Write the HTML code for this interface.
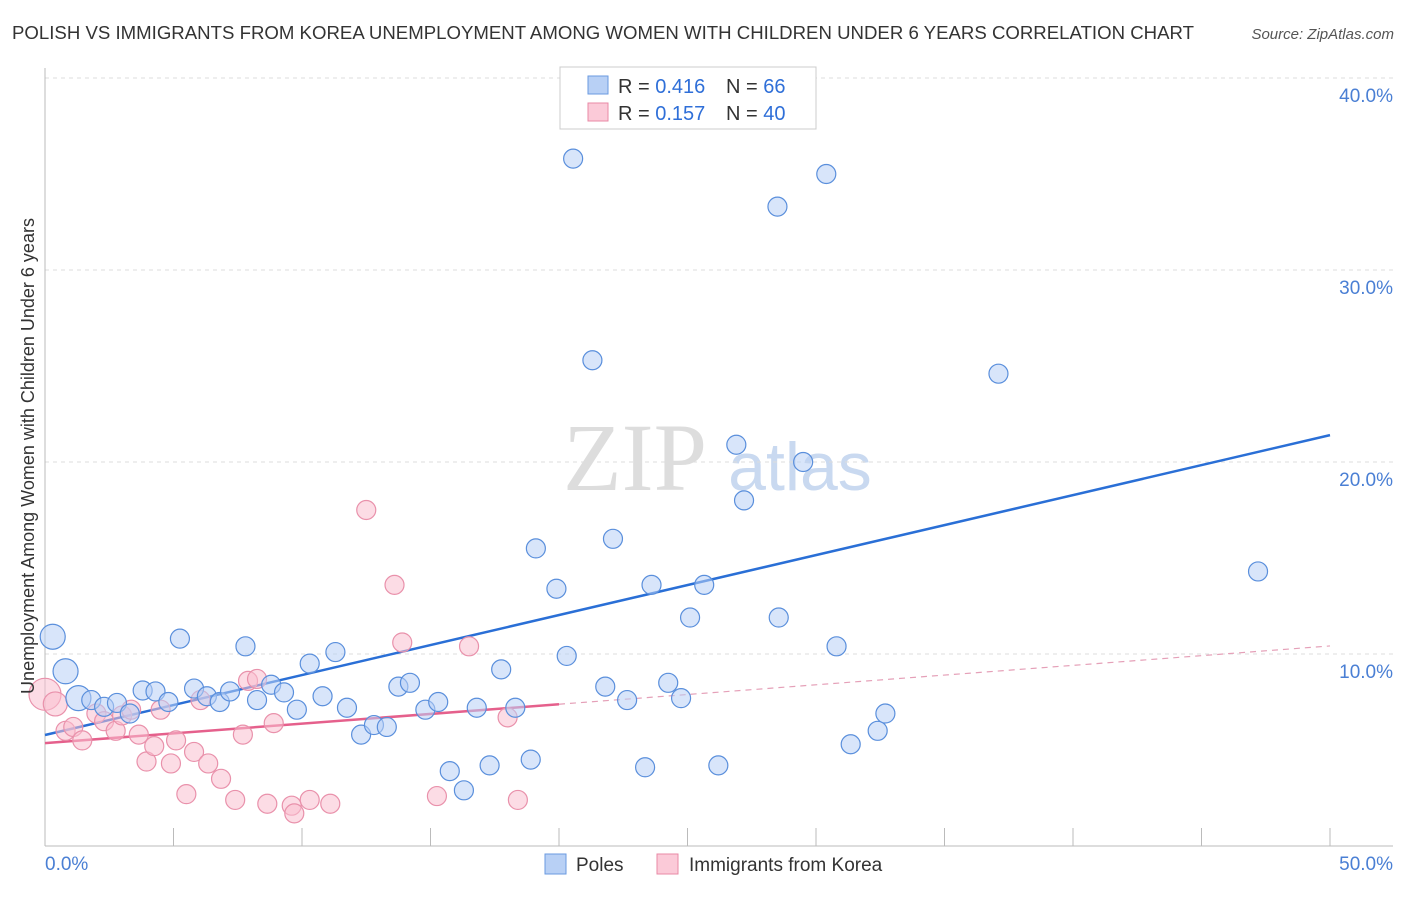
<!DOCTYPE html>
<html><head><meta charset="utf-8"><style>
body{margin:0;background:#fff;font-family:"Liberation Sans",sans-serif;}
</style></head><body>
<svg width="1406" height="892" xmlns="http://www.w3.org/2000/svg" font-family="Liberation Sans, sans-serif">
<text x="12" y="39" font-size="18" fill="#333" textLength="1182" lengthAdjust="spacingAndGlyphs">POLISH VS IMMIGRANTS FROM KOREA UNEMPLOYMENT AMONG WOMEN WITH CHILDREN UNDER 6 YEARS CORRELATION CHART</text>
<text x="1394" y="39" font-size="15" fill="#555" font-style="italic" text-anchor="end">Source: ZipAtlas.com</text>
<text x="635" y="490" font-size="96" fill="#ddd" text-anchor="middle" font-family="Liberation Serif, serif">ZIP</text>
<text x="800" y="490" font-size="68" fill="#c9d9f0" text-anchor="middle">atlas</text>
<g id="grid"></g><g id="axes"></g><g id="lines"></g><g id="pts"></g>
<text transform="translate(34,456) rotate(-90)" font-size="18" fill="#333" text-anchor="middle">Unemployment Among Women with Children Under 6 years</text>
<text x="45" y="870" font-size="19" fill="#4a7fd4">0.0%</text>
<text x="1393" y="870" font-size="19" fill="#4a7fd4" text-anchor="end">50.0%</text>
<g>
<rect x="560" y="67" width="256" height="62" fill="#fff" stroke="#ccc"/>
<rect x="588" y="76" width="20" height="18" fill="#b8d0f5" stroke="#6a9ae0"/>
<rect x="588" y="103" width="20" height="18" fill="#fbcad8" stroke="#e889a6"/>
<text x="618" y="93" font-size="20" fill="#333">R = <tspan fill="#2f6fd8">0.416</tspan><tspan x="726">N = </tspan><tspan fill="#2f6fd8">66</tspan></text>
<text x="618" y="120" font-size="20" fill="#333">R = <tspan fill="#2f6fd8">0.157</tspan><tspan x="726">N = </tspan><tspan fill="#2f6fd8">40</tspan></text>
</g>
<g>
<rect x="545" y="854" width="21" height="20" fill="#b8d0f5" stroke="#6a9ae0"/>
<text x="576" y="871" font-size="19" fill="#333">Poles</text>
<rect x="657" y="854" width="21" height="20" fill="#fbcad8" stroke="#e889a6"/>
<text x="689" y="871" font-size="19" fill="#333">Immigrants from Korea</text>
</g>
</svg>
<script>
const yTicks=[10,20,30,40];
const yTickLabels=["10.0%","20.0%","30.0%","40.0%"];
const xTicks=[0,5,10,15,20,25,30,35,40,45,50];
const polesX=[0.3,0.8,1.3,1.8,2.3,2.8,3.3,3.8,4.3,4.8,5.25,5.8,6.3,6.8,7.2,7.8,8.25,8.8,9.3,9.8,10.3,10.8,11.3,11.75,12.3,12.8,13.3,13.75,14.2,14.8,15.3,15.75,16.3,16.8,17.3,17.75,18.3,18.9,19.1,19.9,20.3,20.55,21.3,21.8,22.1,22.65,23.35,23.6,24.25,24.75,25.1,25.65,26.2,26.9,27.2,27.75,28.5,28.55,29.5,30.4,30.8,31.35,32.4,32.7,37.1,47.2];
const polesY=[10.9,9.1,7.7,7.6,7.25,7.45,6.9,8.1,8.05,7.5,10.8,8.2,7.8,7.5,8.05,10.4,7.6,8.4,8.0,7.1,9.5,7.8,10.1,7.2,5.8,6.3,6.2,8.3,8.5,7.1,7.5,3.9,2.9,7.2,4.2,9.2,7.2,4.5,15.5,13.4,9.9,35.8,25.3,8.3,16.0,7.6,4.1,13.6,8.5,7.7,11.9,13.6,4.2,20.9,18.0,38.9,33.3,11.9,20.0,35.0,10.4,5.3,6.0,6.9,24.6,14.3];
const korX=[0,0.4,0.8,1.1,1.45,2.0,2.3,2.75,3.0,3.35,3.65,3.95,4.25,4.5,4.9,5.1,5.5,5.8,6.05,6.35,6.85,7.4,7.7,7.9,8.25,8.65,8.9,9.6,9.7,10.3,11.1,12.5,13.6,13.9,15.25,16.5,18.0,18.4];
const korY=[7.9,7.4,6.0,6.2,5.5,6.9,6.5,6.0,6.8,7.1,5.8,4.4,5.2,7.1,4.3,5.5,2.7,4.9,7.6,4.3,3.5,2.4,5.8,8.6,8.7,2.2,6.4,2.1,1.7,2.4,2.2,17.5,13.6,10.6,2.6,10.4,6.7,2.4];
const polesFit=[5.78,21.4];
const korFit=[5.36,10.42];
const korSolidEnd=20;
const NS="http://www.w3.org/2000/svg";
const X=v=>45+v*25.7, Y=v=>846-v*19.2;
function mk(tag,attrs,parent){const e=document.createElementNS(NS,tag);for(const k in attrs)e.setAttribute(k,attrs[k]);document.getElementById(parent).appendChild(e);return e;}
yTicks.forEach((t,i)=>{
 const g=mk('line',{x1:45,x2:1393,y1:Y(t),y2:Y(t),stroke:'#ddd','stroke-dasharray':'4,4'},'grid');
 
 
 const l=mk('text',{x:1393,y:Y(t)+24,'font-size':19,fill:'#4a7fd4','text-anchor':'end'},'grid');
 l.textContent=yTickLabels[i];
 
 
});
const ya=mk('line',{x1:45,x2:45,y1:68,y2:846,stroke:'#bbb'},'axes');


const xa=mk('line',{x1:45,x2:1393,y1:846,y2:846,stroke:'#bbb'},'axes');


xTicks.forEach(t=>{
 const e=mk('line',{x1:X(t),x2:X(t),y1:828,y2:846,stroke:'#bbb'},'axes');
 
 
});
function dot(x,y,r,fill,stroke,name){
 const c=mk('circle',{cx:X(x),cy:Y(y),r:r,fill:fill,'fill-opacity':0.55,stroke:stroke,'stroke-width':1.2},'pts');
 
 
}
korX.forEach((x,i)=>dot(x,korY[i],i===0?16:(i===1?12:9.5),'#f9c0d0','#e991ab','korea-point'));
polesX.forEach((x,i)=>dot(x,polesY[i],x<1.5?12.5:9.5,'#b8d0f5','#5a8fdc','poles-point'));
const lf=v=>korFit[0]+(korFit[1]-korFit[0])*v/50;
const pl=mk('line',{x1:X(0),y1:Y(polesFit[0]),x2:X(50),y2:Y(polesFit[1]),stroke:'#2a6fd6','stroke-width':2.5},'lines');


const kl=mk('line',{x1:X(0),y1:Y(lf(0)),x2:X(korSolidEnd),y2:Y(lf(korSolidEnd)),stroke:'#e5608c','stroke-width':2.5},'lines');


const kd=mk('line',{x1:X(korSolidEnd),y1:Y(lf(korSolidEnd)),x2:X(50),y2:Y(lf(50)),stroke:'#e5a0b8','stroke-width':1.2,'stroke-dasharray':'6,5'},'lines');


</script>
</body></html>
